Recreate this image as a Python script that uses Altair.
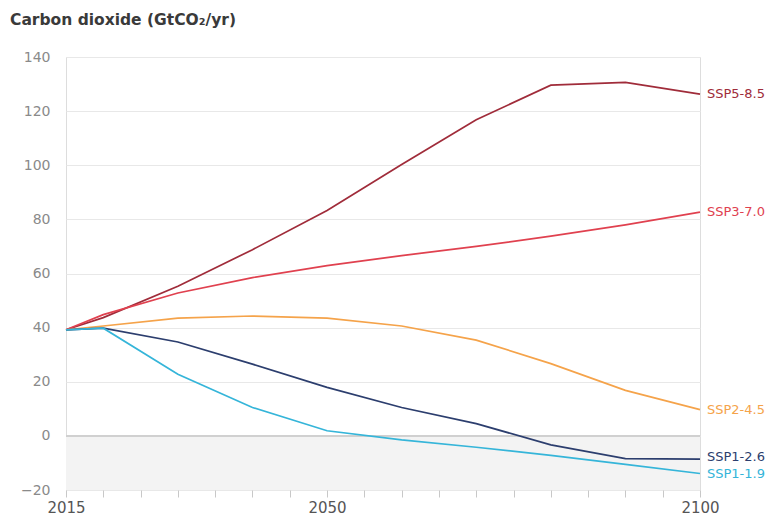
import altair as alt
import pandas as pd

years = [2015, 2020, 2030, 2040, 2050, 2060, 2070, 2080, 2090, 2100]
ssp119 = [39.2, 39.8, 22.8, 10.5, 1.9, -1.5, -4.2, -7.2, -10.5, -13.9]
ssp126 = [39.2, 39.8, 34.7, 26.5, 17.9, 10.5, 4.5, -3.3, -8.4, -8.6]
ssp245 = [39.2, 40.6, 43.5, 44.3, 43.5, 40.6, 35.4, 26.7, 16.8, 9.7]
ssp370 = [39.2, 44.8, 52.8, 58.5, 62.9, 66.6, 70.0, 73.8, 78.0, 82.7]
ssp585 = [39.2, 43.7, 55.3, 68.8, 83.3, 100.3, 116.8, 129.6, 130.6, 126.3]

scenarios = ["SSP5-8.5", "SSP3-7.0", "SSP2-4.5", "SSP1-2.6", "SSP1-1.9"]
series = [ssp585, ssp370, ssp245, ssp126, ssp119]
colors = ["#a02c3a", "#e0414f", "#f5a34a", "#2c3e6e", "#35b5d9"]
label_values = [126.3, 82.7, 9.7, -7.8, -14.2]

x_ticks = list(range(2015, 2101, 5))
x_labels = [2015, 2050, 2100]
y_ticks = [-20, 0, 20, 40, 60, 80, 100, 120, 140]

FONT = "DejaVu Sans"

rows = []
for name, vals in zip(scenarios, series):
    for yr, v in zip(years, vals):
        rows.append({"year": yr, "value": v, "scenario": name})
df = pd.DataFrame(rows)

labels_df = pd.DataFrame({"year": [years[-1]] * len(scenarios),
                          "value": label_values, "scenario": scenarios})

shade_df = pd.DataFrame({"x1": [2015], "x2": [2100], "y1": [-20], "y2": [0]})
zero_df = pd.DataFrame({"y": [0]})

xscale = alt.Scale(domain=[2015, 2100], nice=False, zero=False)
yscale = alt.Scale(domain=[-20, 140], nice=False, zero=False)
cscale = alt.Scale(domain=scenarios, range=colors)

label_test = " || ".join(f"datum.value == {v}" for v in x_labels)
xaxis = alt.Axis(values=x_ticks, title=None, grid=False, domain=False,
                 tickColor="#c8c8c8", tickSize=7, tickWidth=1,
                 labelExpr=f"({label_test}) ? format(datum.value, 'd') : ''",
                 labelFont=FONT, labelFontSize=15, labelColor="#555555",
                 labelPadding=3, labelFlush=False,
                 labelOverlap=False, labelBound=False)
yaxis = alt.Axis(values=y_ticks, title=None, grid=True, gridColor="#e8e8e8",
                 gridWidth=1, domain=False, ticks=False,
                 labelFont=FONT, labelFontSize=14, labelColor="#8a8a8a",
                 labelPadding=16)

shade = alt.Chart(shade_df).mark_rect(color="#f3f3f3").encode(
    x=alt.X("x1:Q", scale=xscale, axis=xaxis),
    x2="x2:Q",
    y=alt.Y("y1:Q", scale=yscale, axis=yaxis),
    y2="y2:Q",
)

zero = alt.Chart(zero_df).mark_rule(color="#d0d0d0", strokeWidth=2).encode(
    y=alt.Y("y:Q", scale=yscale, axis=yaxis)
)

lines = alt.Chart(df).mark_line(strokeWidth=1.7).encode(
    x=alt.X("year:Q", scale=xscale, axis=xaxis),
    y=alt.Y("value:Q", scale=yscale, axis=yaxis),
    color=alt.Color("scenario:N", scale=cscale, legend=None),
    detail="scenario:N",
)

labels = alt.Chart(labels_df).mark_text(
    align="left", baseline="middle", dx=7, font=FONT, fontSize=13
).encode(
    x=alt.X("year:Q", scale=xscale, axis=xaxis),
    y=alt.Y("value:Q", scale=yscale, axis=yaxis),
    text="scenario:N",
    color=alt.Color("scenario:N", scale=cscale, legend=None),
)

chart = alt.layer(shade, zero, lines, labels).properties(
    width=634, height=433,
    autosize=alt.AutoSizeParams(type="none"),
    padding={"left": 66, "top": 57, "right": 76, "bottom": 32},
    title=alt.TitleParams("Carbon dioxide (GtCO₂/yr)", anchor="start", frame="group",
                          dx=-56, offset=22, font=FONT, fontSize=15.5,
                          fontWeight="bold", color="#3a3a3a"),
).configure_view(stroke=None).configure(background="white").configure_axisX(
    labelOverlap=False
)

chart.save("out.html", embed_options={"renderer": "svg", "actions": False})
